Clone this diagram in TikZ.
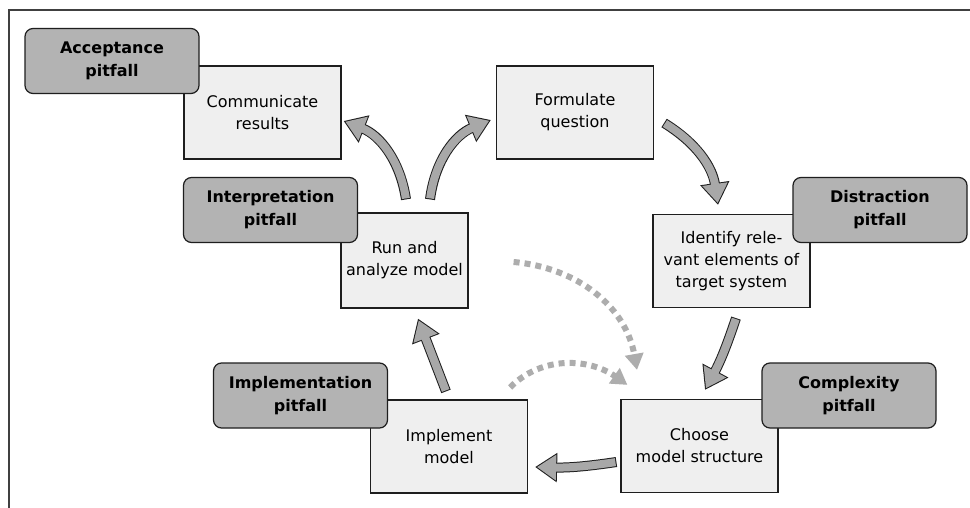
\documentclass[tikz,border=0pt]{standalone}
\usepackage{fontspec}
\setmainfont{DejaVu Sans}
\usetikzlibrary{arrows.meta,calc}
\definecolor{procfill}{HTML}{EFEFEF}
\definecolor{pitfill}{HTML}{B3B3B3}
\definecolor{arrowgray}{HTML}{A8A8A8}
\definecolor{dotgray}{HTML}{ADADAD}
\definecolor{boxline}{HTML}{1E1E1E}
\newcommand\blockarr[3]{\draw[blkout] (#1) to[#3] (#2); \draw[blkin] (#1) to[#3] (#2);}
\begin{document}
\begin{tikzpicture}[x=1pt,y=1pt,
 proc/.style={draw=boxline, line width=1.2pt, fill=procfill, minimum width=157pt, minimum height=93pt, inner sep=0pt, align=center, font=\fontsize{16}{22}\selectfont},
 pit/.style={draw=boxline, line width=1.2pt, fill=pitfill, rounded corners=8pt, minimum width=174pt, minimum height=65pt, inner sep=0pt, align=center, font=\fontsize{16}{23}\selectfont\bfseries},
 blkout/.style={line width=10pt, draw=boxline, -{Triangle[width=28pt,length=22pt]}},
 blkin/.style={line width=8pt, draw=arrowgray, shorten >=1.9pt, shorten <=1pt, -{Triangle[width=24.4pt,length=19.1pt]}},
 dots/.style={draw=dotgray, line width=6pt, dash pattern=on 6pt off 5pt, -{Triangle[width=18pt,length=16pt]}},
 frameline/.style={draw=boxline!85, line width=1.5pt}]
\fill[white] (0,0) rectangle (970,-508);
\useasboundingbox (0,0) rectangle (970,-508);
\draw[frameline] (970,-10) -- (9,-10) -- (9,-508);

% process boxes
\node[proc] (comm) at (262.5,-112.5) {Communicate\\results};
\node[proc] (form) at (575,-112.5) {Formulate\\question};
\node[proc] (ident) at (731.5,-261) {Identify rele-\\vant elements of\\target system};
\node[proc] (choose) at (699.5,-446) {Choose\\model structure};
\node[proc] (impl) at (449,-446.5) {Implement\\model};
\node[proc, minimum width=127pt, minimum height=95pt] (run) at (404.5,-260.5) {Run and\\analyze model};

% pitfalls
\node[pit] (acc) at (112,-61) {Acceptance\\pitfall};
\node[pit] (interp) at (270.5,-210) {Interpretation\\pitfall};
\node[pit] (distr) at (880,-210) {Distraction\\pitfall};
\node[pit] (compl) at (849,-395.5) {Complexity\\pitfall};
\node[pit] (implp) at (300.5,-395.5) {Implementation\\pitfall};

% arrow end points
\coordinate (a1s) at ($(run.north)+(1.5,13)$);
\coordinate (a1e) at ($(comm.east)+(2,-8.5)$);
\coordinate (a2s) at ($(run.north)+(25.5,13)$);
\coordinate (a2e) at ($(form.west)+(-5,-7.5)$);
\coordinate (a3s) at ($(form.east)+(10,-10.5)$);
\coordinate (a3e) at ($(ident.north)+(-13.5,9)$);
\coordinate (a4s) at ($(ident.south)+(4.5,-10)$);
\coordinate (a4e) at ($(choose.north)+(5.5,9)$);
\coordinate (a5s) at ($(choose.west)+(-4,-16)$);
\coordinate (a5e) at ($(impl.east)+(7,-20.5)$);
\coordinate (a6s) at ($(impl.north)+(-3,8)$);
\coordinate (a6e) at ($(run.south)+(13.5,-10)$);
\coordinate (d1s) at ($(run.east)+(45,-1.5)$);
\coordinate (d1e) at ($(choose.north)+(-62.5,29)$);
\coordinate (d2s) at ($(impl.north east)+(-18,12)$);
\coordinate (d2e) at ($(choose.north west)+(7,14)$);

\blockarr{a1s}{a1e}{bend right=30}
\blockarr{a2s}{a2e}{bend left=30}
\blockarr{a3s}{a3e}{bend left=25}
\blockarr{a4s}{a4e}{bend left=5}
\blockarr{a5s}{a5e}{bend left=5}
\blockarr{a6s}{a6e}{bend left=0}

\draw[dots] (d1s) to[out=-5, in=100] (d1e);
\draw[dots] (d2s) to[out=45, in=145] (d2e);
\end{tikzpicture}
\end{document}
